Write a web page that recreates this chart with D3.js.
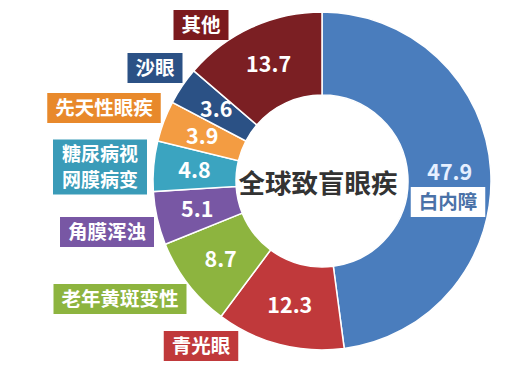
<!DOCTYPE html>
<html>
<head>
<meta charset="utf-8">
<script src="https://cdn.jsdelivr.net/npm/d3@7"></script>
<style>
  body { margin: 0; background: #fff; }
  text { font-family: "Noto Sans CJK SC", "Noto Sans", sans-serif; font-weight: bold; }
</style>
</head>
<body>
<div id="chart-area"></div>
<script>
// data, clockwise from 12 o'clock
const categories = ["白内障", "青光眼", "老年黄斑变性", "角膜浑浊", "糖尿病视网膜病变", "先天性眼疾", "沙眼", "其他"]
const values = [47.9, 12.3, 8.7, 5.1, 4.8, 3.9, 3.6, 13.7]
const title = "全球致盲眼疾"

const sliceColors = ["#4a7dbd", "#c0393b", "#8db43f", "#7857a4", "#3ba4c0", "#f39c42", "#2b5185", "#7b1f23"]
const boxColors = ["#ffffff", "#c0393b", "#8db43f", "#7857a4", "#3a9bb8", "#e8892b", "#2b5185", "#7b1a1d"]
// label box centres and line breaks
const labelPos = [[448, 202], [201, 346], [120, 299], [107, 232], [100, 167], [104, 108], [155, 68], [201, 25]]
const labelLines = [["白内障"], ["青光眼"], ["老年黄斑变性"], ["角膜浑浊"], ["糖尿病视", "网膜病变"], ["先天性眼疾"], ["沙眼"], ["其他"]]

const WIDTH = 528, HEIGHT = 371
const CX = 322, CY = 181
const R_OUT = 169, R_IN = 86

const svg = d3.select("#chart-area").append("svg")
  .attr("width", WIDTH)
  .attr("height", HEIGHT)

const g = svg.append("g")
  .attr("transform", `translate(${CX},${CY})`)

const data = categories.map((c, i) => ({name: c, value: values[i], i: i}))

const pie = d3.pie().value(d => d.value).sort(null)
const arc = d3.arc().innerRadius(R_IN).outerRadius(R_OUT)
const labelArc = d3.arc().innerRadius(128).outerRadius(128)

const arcs = pie(data)

g.selectAll("path")
  .data(arcs)
  .enter().append("path")
    .attr("d", arc)
    .attr("fill", d => sliceColors[d.data.i])
    .attr("stroke", "#fff")
    .attr("stroke-width", 1.5)

g.selectAll("text.value")
  .data(arcs)
  .enter().append("text")
    .attr("class", "value")
    .attr("transform", d => `translate(${labelArc.centroid(d)})`)
    .attr("text-anchor", "middle")
    .attr("dy", "0.36em")
    .attr("font-size", 21.5)
    .attr("fill", d => d.data.i == 0 ? "#e6efff" : "#fff")
    .text(d => d.data.value.toFixed(1))

// centre title
g.append("text")
  .attr("x", -4)
  .attr("y", 2)
  .attr("dy", "0.36em")
  .attr("text-anchor", "middle")
  .attr("font-size", 26.5)
  .attr("fill", "#333")
  .text(title)

// category boxes
const labels = svg.selectAll("g.label")
  .data(data)
  .enter().append("g")
    .attr("class", "label")
    .attr("transform", d => `translate(${labelPos[d.i]})`)

labels.each(function(d) {
  const lab = d3.select(this)
  const lines = labelLines[d.i]
  const fs = 19.5
  const lh = 25.5
  const maxLen = d3.max(lines, l => l.length)
  const w = maxLen * fs + 16
  const h = lines.length == 1 ? 30 : 55
  lab.append("rect")
    .attr("x", -w / 2)
    .attr("y", -h / 2)
    .attr("width", w)
    .attr("height", h)
    .attr("fill", boxColors[d.i])
  // one text with tspans for the two line label
  const t = lab.append("text")
    .attr("text-anchor", "middle")
    .attr("font-size", lines.length == 1 ? fs : 19)
    .attr("fill", d.i == 0 ? "#4a72a8" : "#fff")
  lines.forEach((l, k) => {
    t.append("tspan")
      .attr("x", 0)
      .attr("y", (k - (lines.length - 1) / 2) * lh)
      .attr("dy", "0.36em")
      .text(l)
  })
})
</script>
</body>
</html>
